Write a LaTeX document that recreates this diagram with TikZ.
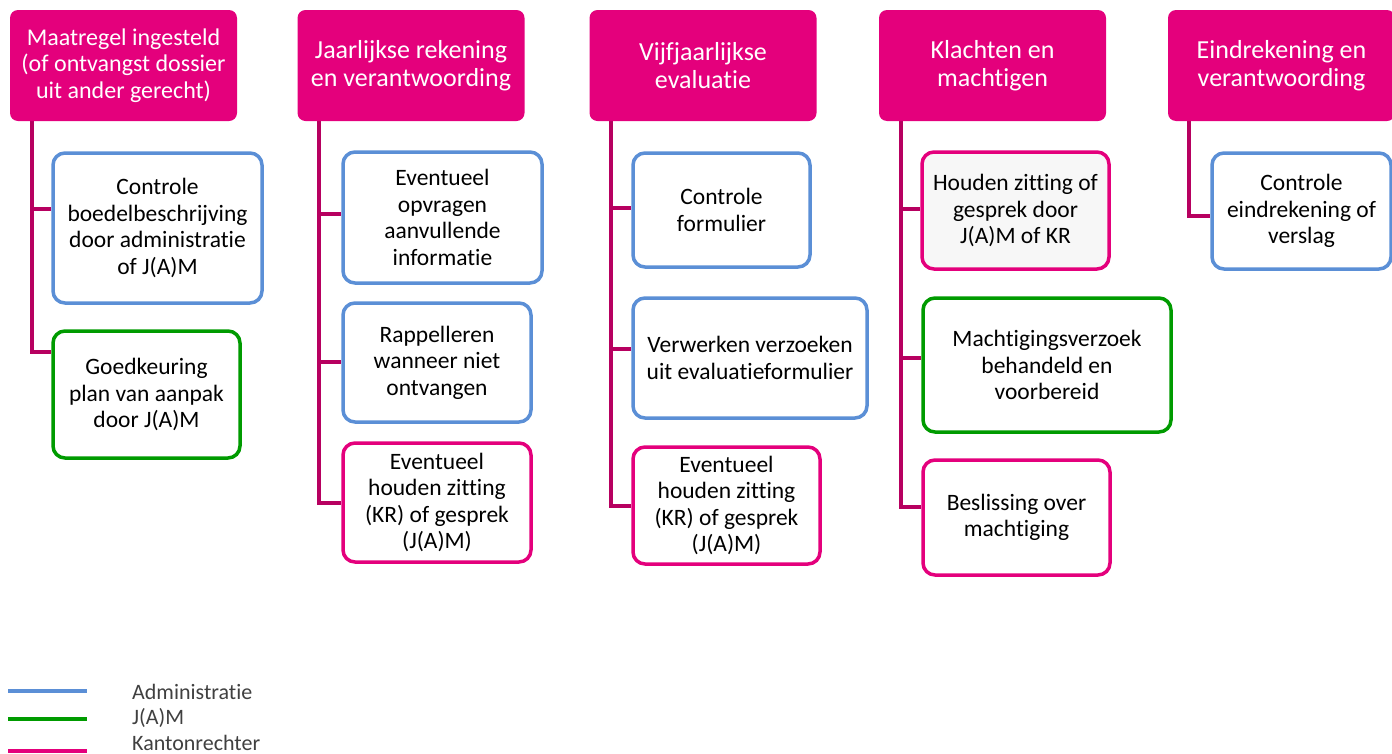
\documentclass[tikz,border=0pt]{standalone}
\usepackage{fontspec}
\setmainfont[Ligatures={NoCommon,NoContextual,NoRequired},Contextuals=NoAlternate,RawFeature=-ccmp]{Carlito}
\usetikzlibrary{backgrounds}
\definecolor{krpink}{RGB}{228,0,124}
\definecolor{linkred}{RGB}{183,0,96}
\definecolor{admblue}{RGB}{91,143,214}
\definecolor{jamgreen}{RGB}{0,155,0}
\definecolor{legendgray}{RGB}{64,64,64}

\begin{document}
\begin{tikzpicture}[x=1pt,y=-1pt,
  hdr/.style={fill=krpink,text=white,rounded corners=8pt,minimum width=227pt,minimum height=111pt,
    align=center,inner sep=0pt,font=\fontsize{26}{28}\selectfont},
  task/.style={fill=white,line width=3.5pt,rounded corners=12pt,align=center,inner sep=0pt,
    font=\fontsize{23.5}{26.5}\selectfont},
  admin/.style={task,draw=admblue},
  jam/.style={task,draw=jamgreen},
  kr/.style={task,draw=krpink},
  link/.style={draw=linkred,line width=3.5pt}]
\useasboundingbox (0,0) rectangle (1392,753);
% ---- column headers ----
\node[hdr,font=\fontsize{24}{26.5}\selectfont] (h1) at (123.5,65.5) {Maatregel ingesteld\\(of ontvangst dossier\\uit ander gerecht)};
\node[hdr] (h2) at (411,65.5) {Jaarlijkse rekening\\en verantwoording};
\node[hdr] (h3) at (703,65.5) {Vijfjaarlijkse\\evaluatie};
\node[hdr] (h4) at (992.5,65.5) {Klachten en\\machtigen};
\node[hdr] (h5) at (1281.5,65.5) {Eindrekening en\\verantwoording};
% ---- tasks ----
\node[admin,minimum width=209pt,minimum height=150pt] (b11) at (157.5,228) {Controle\\boedelbeschrijving\\door administratie\\of J(A)M};
\node[jam,minimum width=187pt,minimum height=127pt] (b12) at (146.5,394.5) {Goedkeuring\\plan van aanpak\\door J(A)M};
\node[admin,minimum width=199pt,minimum height=131pt] (b21) at (442.5,217.5) {Eventueel\\opvragen\\aanvullende\\informatie};
\node[admin,minimum width=188pt,minimum height=119pt] (b22) at (437,362.5) {Rappelleren\\wanneer niet\\ontvangen};
\node[kr,minimum width=188pt,minimum height=119pt] (b23) at (437,502.5) {Eventueel\\houden zitting\\(KR) of gesprek\\(J(A)M)};
\node[admin,minimum width=177pt,minimum height=114pt] (b31) at (721.5,210) {Controle\\formulier};
\node[admin,minimum width=234pt,minimum height=120pt] (b32) at (750,358) {Verwerken verzoeken\\uit evaluatieformulier};
\node[kr,minimum width=187pt,minimum height=117pt] (b33) at (726.5,505.5) {Eventueel\\houden zitting\\(KR) of gesprek\\(J(A)M)};
\node[kr,minimum width=187pt,minimum height=117pt,fill=black!3] (b41) at (1015.5,210.5) {Houden zitting of\\gesprek door\\J(A)M of KR};
\node[jam,minimum width=248pt,minimum height=134pt] (b42) at (1047,365) {Machtigingsverzoek\\behandeld en\\voorbereid};
\node[kr,minimum width=187pt,minimum height=115pt] (b43) at (1016.5,517.5) {Beslissing over\\machtiging};
\node[admin,minimum width=179pt,minimum height=116pt] (b51) at (1301.5,211) {Controle\\eindrekening of\\verslag};
% ---- connectors ----
\begin{scope}[on background layer]
\draw[link] (h1.south -| 32,0) |- (b11.west |- 0,209);
\draw[link] (h1.south -| 32,0) |- (b12.west |- 0,352);
\draw[link] (h2.south -| 319,0) |- (b21.west |- 0,214);
\draw[link] (h2.south -| 319,0) |- (b22.west |- 0,362);
\draw[link] (h2.south -| 319,0) |- (b23.west |- 0,503);
\draw[link] (h3.south -| 611,0) |- (b31.west |- 0,208);
\draw[link] (h3.south -| 611,0) |- (b32.west |- 0,349);
\draw[link] (h3.south -| 611,0) |- (b33.west |- 0,506);
\draw[link] (h4.south -| 901,0) |- (b41.west |- 0,209);
\draw[link] (h4.south -| 901,0) |- (b42.west |- 0,358);
\draw[link] (h4.south -| 901,0) |- (b43.west |- 0,507);
\draw[link] (h5.south -| 1189,0) |- (b51.west |- 0,216);
\end{scope}
% ---- legend ----
\foreach \col/\ly/\ty/\lbl [count=\i] in {admblue/691/692/Administratie, jamgreen/719/718/J(A)M, krpink/751/743/Kantonrechter} {
  \draw[line width=4pt,\col] (8,\ly) -- (87,\ly);
  \node[anchor=west,inner sep=0pt,text=legendgray,font=\fontsize{22}{26}\selectfont] (leg\i) at (132,\ty) {\lbl};}
\end{tikzpicture}
\end{document}
